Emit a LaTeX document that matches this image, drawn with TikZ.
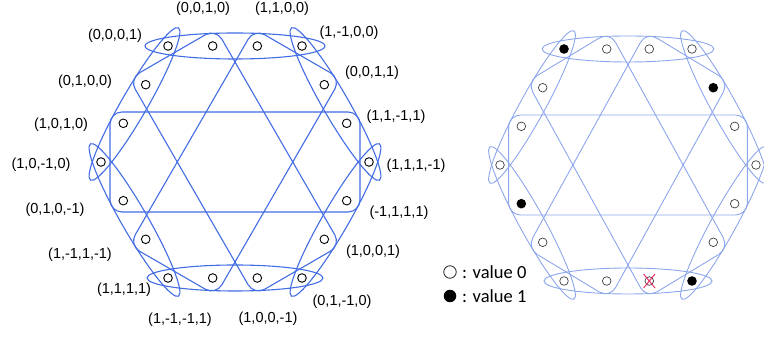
\documentclass[tikz,border=0pt]{standalone}
\usepackage{fontspec}
\setmainfont{Liberation Sans}
\newfontfamily\legendfont{Carlito}
\definecolor{blueA}{RGB}{66,108,228}
\definecolor{blueB}{RGB}{140,166,236}
\definecolor{xred}{RGB}{232,52,104}
\newcommand\drawcontexts[1]{%
  \foreach \ang in {0,60,-60}{%
    \draw[#1, rotate=\ang, rounded corners=12pt] (-125,-50) rectangle (125,50);
  }
  \foreach \cx/\cy/\ang/\ra in {0/116/0/90, 0/-116/0/88, -100.5/58/60/88, 100.5/58/-60/88, -100.5/-58/-60/88, 100.5/-58/60/88}{%
    \draw[#1, shift={(\cx,\cy)}, rotate=\ang] (0,0) ellipse [x radius=\ra, y radius=13];
  }
}
\begin{document}
\begin{tikzpicture}[x=1pt,y=1pt,
  hedgeA/.style={draw=blueA, line width=1.1pt},
  hedgeB/.style={draw=blueB, line width=0.9pt},
  ptA/.style={circle, draw=black, line width=0.9pt, minimum size=8.6pt, inner sep=0pt},
  ptB/.style={circle, draw=black!75, line width=0.7pt, minimum size=8.6pt, inner sep=0pt},
  ptBfill/.style={circle, fill=black, minimum size=9.6pt, inner sep=0pt},
  lab/.style={font=\fontsize{14.5}{17}\selectfont, inner sep=0pt},
  leg/.style={font=\legendfont\fontsize{18.5}{22}\selectfont, inner sep=0pt, anchor=west},
  xmark/.style={draw=xred, line width=1pt},
]
\useasboundingbox (0,0) rectangle (764,337);
\clip (0,0) rectangle (764,337);

% ---------- left figure ----------
\begin{scope}[shift={(235,175)}]
  \drawcontexts{hedgeA}
  \foreach \n/\x/\y in {1/-67/116, 2/-22.3/116, 3/22.3/116, 4/67/116,
      5/-89.3/77.3, 6/89.3/77.3, 7/-111.7/38.7, 8/111.7/38.7,
      9/-134/0, 10/134/0, 11/-111.7/-38.7, 12/111.7/-38.7,
      13/-89.3/-77.3, 14/89.3/-77.3, 15/-67/-116, 16/-22.3/-116,
      17/22.3/-116, 18/67/-116}{%
    \node[ptA, fill=white] (a\n) at (\x,\y) {};
  }
\end{scope}

\node[lab] (t2)  at (203,328) {(0,0,1,0)};
\node[lab] (t3)  at (282,328) {(1,1,0,0)};
\node[lab] (t1)  at (115,301) {(0,0,0,1)};
\node[lab] (t4)  at (349,304) {(1,-1,0,0)};
\node[lab] (t6)  at (372,264) {(0,0,1,1)};
\node[lab] (t5)  at (85,255)  {(0,1,0,0)};
\node[lab] (t7)  at (61,212)  {(1,0,1,0)};
\node[lab] (t8)  at (396,220) {(1,1,-1,1)};
\node[lab] (t9)  at (41,172)  {(1,0,-1,0)};
\node[lab] (t10) at (416,171) {(1,1,1,-1)};
\node[lab] (t11) at (55,127)  {(0,1,0,-1)};
\node[lab] (t12) at (399,124) {(-1,1,1,1)};
\node[lab] (t13) at (80,82)   {(1,-1,1,-1)};
\node[lab] (t14) at (373,85)  {(1,0,0,1)};
\node[lab] (t15) at (124,47)  {(1,1,1,1)};
\node[lab] (t18) at (342,35)  {(0,1,-1,0)};
\node[lab] (t16) at (180,17)  {(1,-1,-1,1)};
\node[lab] (t17) at (268,18)  {(1,0,0,-1)};

% ---------- right figure ----------
\begin{scope}[shift={(628,172)}, xscale=0.955]
  \drawcontexts{hedgeB}
  \foreach \n/\x/\y in {2/-22.3/116, 3/22.3/116, 4/67/116,
      5/-89.3/77.3, 7/-111.7/38.7, 8/111.7/38.7,
      9/-134/0, 10/134/0, 12/111.7/-38.7,
      13/-89.3/-77.3, 14/89.3/-77.3, 15/-67/-116, 16/-22.3/-116,
      17/22.3/-116}{%
    \node[ptB, fill=white] (b\n) at (\x,\y) {};
  }
  \node[ptBfill] (b1)  at (-67,116) {};
  \node[ptBfill] (b6)  at (89.3,77.3) {};
  \node[ptBfill] (b11) at (-111.7,-38.7) {};
  \node[ptBfill] (b18) at (67,-116) {};
  \draw[xmark] (22.3-6,-116+7) -- (22.3+6,-116-7);
  \draw[xmark] (22.3+6,-116+7) -- (22.3-6,-116-7);
\end{scope}

% ---------- legend ----------
\node[circle, draw=black!85, line width=0.8pt, minimum size=12.5pt, inner sep=0pt] (leg0) at (450,65) {};
\node[circle, fill=black, minimum size=12.5pt, inner sep=0pt] (leg1) at (450,41) {};
\node[leg] (legt0) at (462,65) {: value 0};
\node[leg] (legt1) at (462,41) {: value 1};
\end{tikzpicture}
\end{document}
